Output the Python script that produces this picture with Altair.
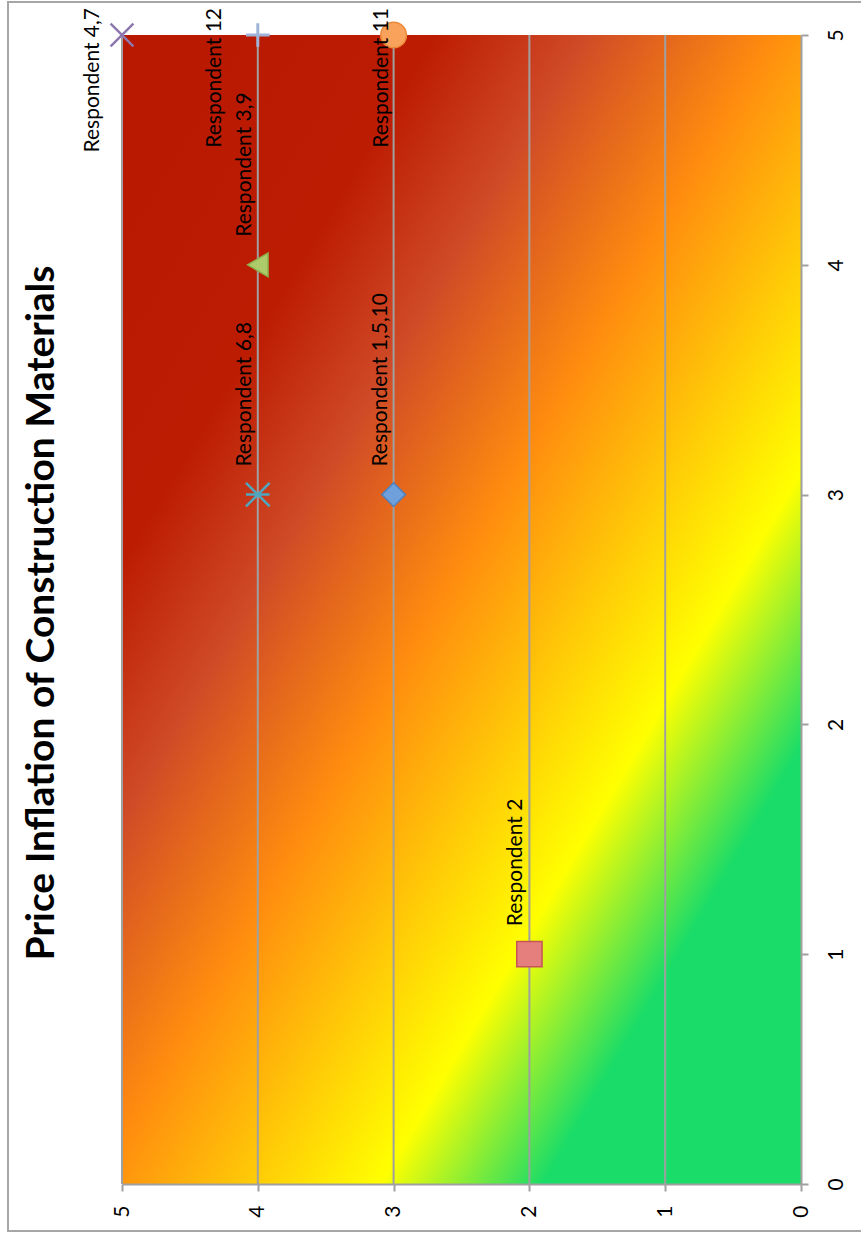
import altair as alt
import pandas as pd

# The original Excel chart is rotated 90 degrees counter-clockwise in the image.
# x_value = original horizontal axis (shown vertically, right-hand axis)
# y_value = original vertical axis (shown horizontally, bottom axis, reversed)
labels = ["Respondent 1,5,10", "Respondent 2", "Respondent 3,9", "Respondent 4,7",
          "Respondent 6,8", "Respondent 11", "Respondent 12"]
x_values = [3, 1, 4, 5, 3, 5, 5]
y_values = [3, 2, 4, 5, 4, 3, 4]
tick_values = [0, 1, 2, 3, 4, 5]
grid_values = [1, 2, 3, 4, 5]
axis_min = [0]
axis_max = [5]
TITLE = "Price Inflation of Construction Materials"

df = pd.DataFrame({"label": labels, "x_value": x_values, "y_value": y_values})

GRAY = "#A0A0A0"
FONT = "Lato"

xs = alt.Scale(domain=[0, 5], reverse=True, nice=False, zero=False)
ys = alt.Scale(domain=[0, 5], nice=False, zero=False)
xa = alt.Axis(orient="bottom", values=tick_values, title=None, grid=False,
              domainColor=GRAY, domainWidth=2, tickColor=GRAY, tickWidth=2, tickSize=7,
              labelAngle=270, labelAlign="right", labelBaseline="middle", labelPadding=14,
              labelFont=FONT, labelFontSize=21, labelColor="black", labelFlush=False, zindex=1)
ya = alt.Axis(orient="right", values=tick_values, title=None, grid=False,
              domainColor=GRAY, domainWidth=2, tickColor=GRAY, tickWidth=2, tickSize=7,
              labelAngle=270, labelAlign="center", labelBaseline="top", labelPadding=17,
              labelFont=FONT, labelFontSize=21, labelColor="black", labelFlush=False, zindex=1)

X = alt.X("y_value:Q", scale=xs, axis=xa)
Y = alt.Y("x_value:Q", scale=ys, axis=ya)

gradient = alt.LinearGradient(
    gradient="linear",
    stops=[
        alt.GradientStop(color="#B81800", offset=0.0),
        alt.GradientStop(color="#BC1C02", offset=0.23),
        alt.GradientStop(color="#CF4A27", offset=0.34),
        alt.GradientStop(color="#FF8C0F", offset=0.48),
        alt.GradientStop(color="#FFFF00", offset=0.69),
        alt.GradientStop(color="#1ADC68", offset=0.81),
        alt.GradientStop(color="#1ADC68", offset=1.0),
    ],
    x1=0, y1=0, x2=1, y2=1,
)

one = pd.DataFrame({"k": [0]})

frame = alt.Chart(one).mark_rect(fillOpacity=0, stroke="#A6A6A6", strokeWidth=2).encode(
    x=alt.value(-114), x2=alt.value(760), y=alt.value(-33), y2=alt.value(1196))

bg_df = pd.DataFrame({"lo": axis_min, "hi": axis_max})
bg = alt.Chart(bg_df).mark_rect(fill=gradient).encode(
    x=alt.X("hi:Q", scale=xs, axis=xa), x2="lo:Q",
    y=alt.Y("lo:Q", scale=ys, axis=ya), y2="hi:Q")

grid = alt.Chart(pd.DataFrame({"g": grid_values})).mark_rule(
    color=GRAY, strokeWidth=2).encode(x=alt.X("g:Q", scale=xs, axis=xa))


def pts(label, **style):
    return alt.Chart(df).transform_filter(alt.datum.label == label).mark_point(
        opacity=1, **style).encode(x=X, y=Y)


markers = [
    pts("Respondent 2", shape="square", filled=True, size=640,
        fill="#E47F7D", stroke="#C65654", strokeWidth=1.5),
    pts("Respondent 1,5,10", shape="diamond", filled=True, size=560,
        fill="#6FA0DC", stroke="#4F81BD", strokeWidth=1.5),
    pts("Respondent 3,9", shape="triangle-left", filled=True, size=560,
        fill="#AECB6C", stroke="#8FAF4C", strokeWidth=1.5),
    pts("Respondent 11", shape="circle", filled=True, size=660,
        fill="#F9A25B", stroke="#EC8A3C", strokeWidth=1.5),
    pts("Respondent 4,7", shape="M-1,-1L1,1M-1,1L1,-1", filled=False, size=520,
        color="#8C78AE", strokeWidth=2.5),
    pts("Respondent 12", shape="M-1,0L1,0M0,-1L0,1", filled=False, size=560,
        color="#9FB4D8", strokeWidth=3),
    pts("Respondent 6,8", shape="M-1,-1L1,1M-1,1L1,-1M-1,0L1,0", filled=False, size=560,
        color="#4FA6C0", strokeWidth=2.5),
]


def lbl(filt, align, dx, dy):
    return alt.Chart(df).transform_filter(filt).mark_text(
        angle=270, align=align, baseline="middle", dx=dx, dy=dy,
        font=FONT, fontSize=21, color="black").encode(x=X, y=Y, text="label:N")


texts = [
    lbl(alt.datum.x_value < 5, "left", 28, -13),
    lbl(alt.datum.label == "Respondent 4,7", "right", 27, -29),
    lbl(alt.datum.label == "Respondent 12", "right", 27, -43),
    lbl(alt.datum.label == "Respondent 11", "right", 27, -12),
]

title = alt.Chart(pd.DataFrame({"t": [TITLE]})).mark_text(
    angle=270, align="center", baseline="middle", font=FONT, fontSize=39,
    fontWeight="bold", color="black").encode(
    x=alt.value(-80), y=alt.value(578), text="t:N")

chart = alt.layer(frame, bg, grid, *markers, *texts, title).properties(
    width=679, height=1149,
    autosize=alt.AutoSizeParams(type="none"),
    padding={"left": 122, "top": 35, "right": 60, "bottom": 53},
    background="white",
).configure_view(stroke=None)

chart.save("out.html", embed_options={"renderer": "svg", "actions": False})
